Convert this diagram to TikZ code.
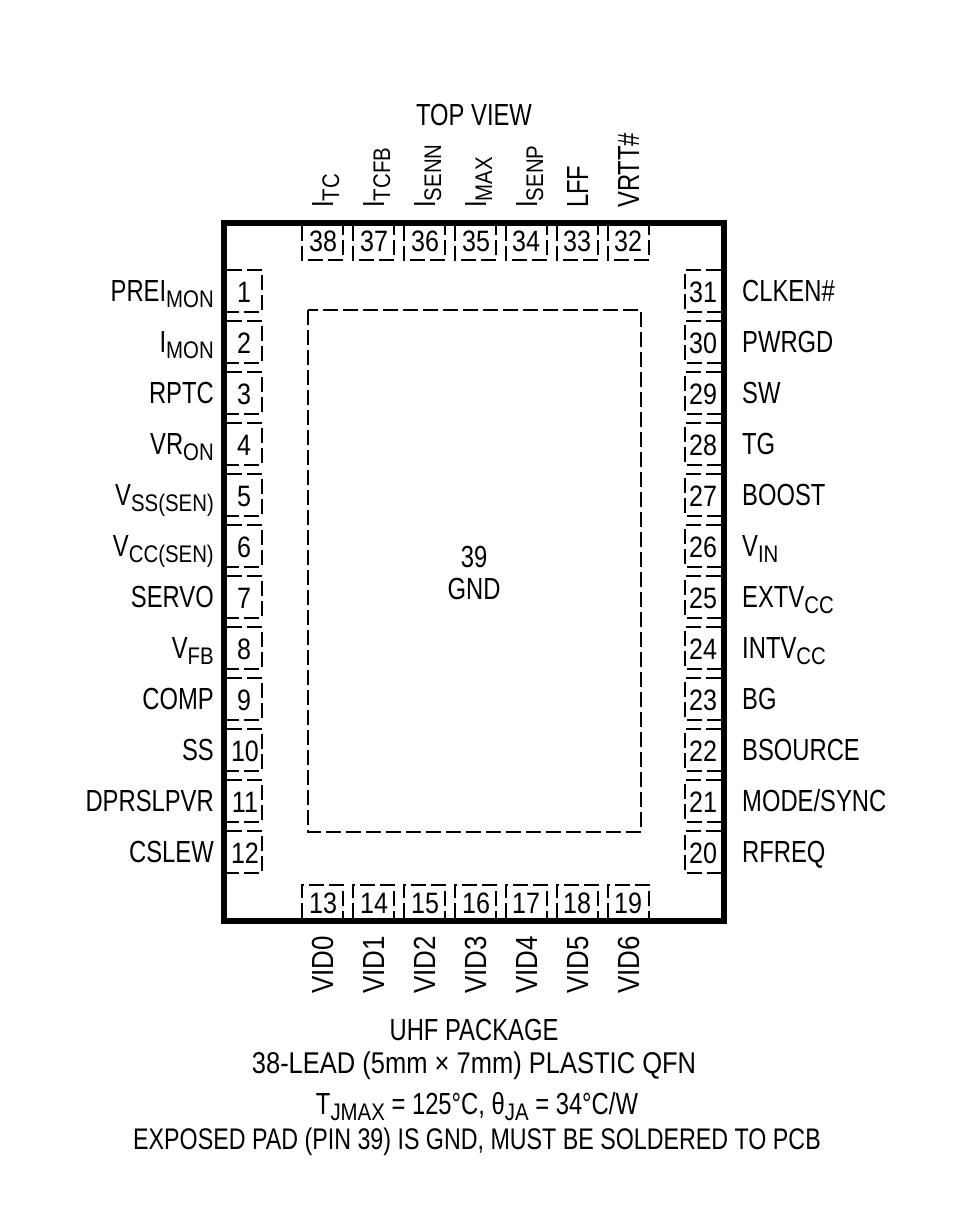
\documentclass[tikz,border=0pt]{standalone}
\usepackage{fontspec}
\setmainfont[FakeStretch=0.78]{Liberation Sans}
\newfontfamily\widefont[FakeStretch=0.85]{Liberation Sans}
\newcommand{\lowtext}[1]{\raisebox{-6pt}{\widefont\fontsize{24}{24}\selectfont #1}}
\tikzset{
    padline/.style={line width=2pt, dash pattern=on 15pt off 5pt},
    pinnum/.style={inner sep=0pt, anchor=base, font=\widefont\fontsize{29.5}{29.5}\selectfont},
    leftname/.style={inner sep=0pt, anchor=base east, font=\fontsize{30.5}{30.5}\selectfont},
    rightname/.style={inner sep=0pt, anchor=base west, font=\fontsize{30.5}{30.5}\selectfont},
    vertname/.style={inner sep=0pt, anchor=base west, rotate=90, font=\fontsize{30.5}{30.5}\selectfont},
    vidname/.style={vertname, font=\widefont\fontsize{30.5}{30.5}\selectfont},
    midtext/.style={inner sep=0pt, anchor=base, font=\fontsize{30.5}{30.5}\selectfont}
}
\begin{document}
\begin{tikzpicture}[x=1pt,y=-1pt]
    \useasboundingbox (0,0) rectangle (967,1220);
    \node [midtext] (topview) at (474,125) {TOP VIEW};

    \draw [line width=6pt] (224,223) rectangle (724,921);
    \draw [padline] (308,310) rectangle (641,832);
    \node [midtext] (epnum) at (474,567) {39};
    \node [midtext] (epname) at (474,599) {GND};

    % left side
    \draw [padline] (227,270) -- (262,270) -- (262,312) -- (227,312);
    \draw [padline] (227,321) -- (262,321) -- (262,363) -- (227,363);
    \draw [padline] (227,372) -- (262,372) -- (262,414) -- (227,414);
    \draw [padline] (227,423) -- (262,423) -- (262,465) -- (227,465);
    \draw [padline] (227,474) -- (262,474) -- (262,516) -- (227,516);
    \draw [padline] (227,525) -- (262,525) -- (262,567) -- (227,567);
    \draw [padline] (227,576) -- (262,576) -- (262,618) -- (227,618);
    \draw [padline] (227,627) -- (262,627) -- (262,669) -- (227,669);
    \draw [padline] (227,678) -- (262,678) -- (262,720) -- (227,720);
    \draw [padline] (227,729) -- (262,729) -- (262,771) -- (227,771);
    \draw [padline] (227,780) -- (262,780) -- (262,822) -- (227,822);
    \draw [padline] (227,831) -- (262,831) -- (262,873) -- (227,873);
    \node [pinnum] (pin1) at (244,302) {1};
    \node [pinnum] (pin2) at (244,353) {2};
    \node [pinnum] (pin3) at (244,404) {3};
    \node [pinnum] (pin4) at (244,455) {4};
    \node [pinnum] (pin5) at (244,506) {5};
    \node [pinnum] (pin6) at (244,557) {6};
    \node [pinnum] (pin7) at (244,608) {7};
    \node [pinnum] (pin8) at (244,659) {8};
    \node [pinnum] (pin9) at (244,710) {9};
    \node [pinnum] (pin10) at (245,761) {10};
    \node [pinnum] (pin11) at (245,812) {11};
    \node [pinnum] (pin12) at (245,863) {12};
    \node [leftname] (name1) at (214,301) {PREI\lowtext{MON}};
    \node [leftname] (name2) at (214,352) {I\lowtext{MON}};
    \node [leftname] (name3) at (214,403) {RPTC};
    \node [leftname] (name4) at (214,454) {VR\lowtext{ON}};
    \node [leftname] (name5) at (214,505) {V\lowtext{SS(SEN)}};
    \node [leftname] (name6) at (214,556) {V\lowtext{CC(SEN)}};
    \node [leftname] (name7) at (214,607) {SERVO};
    \node [leftname] (name8) at (214,658) {V\lowtext{FB}};
    \node [leftname] (name9) at (214,709) {COMP};
    \node [leftname] (name10) at (214,760) {SS};
    \node [leftname] (name11) at (214,811) {DPRSLPVR};
    \node [leftname] (name12) at (214,862) {CSLEW};

    % right side
    \draw [padline] (721,270) -- (685,270) -- (685,312) -- (721,312);
    \draw [padline] (721,321) -- (685,321) -- (685,363) -- (721,363);
    \draw [padline] (721,372) -- (685,372) -- (685,414) -- (721,414);
    \draw [padline] (721,423) -- (685,423) -- (685,465) -- (721,465);
    \draw [padline] (721,474) -- (685,474) -- (685,516) -- (721,516);
    \draw [padline] (721,525) -- (685,525) -- (685,567) -- (721,567);
    \draw [padline] (721,576) -- (685,576) -- (685,618) -- (721,618);
    \draw [padline] (721,627) -- (685,627) -- (685,669) -- (721,669);
    \draw [padline] (721,678) -- (685,678) -- (685,720) -- (721,720);
    \draw [padline] (721,729) -- (685,729) -- (685,771) -- (721,771);
    \draw [padline] (721,780) -- (685,780) -- (685,822) -- (721,822);
    \draw [padline] (721,831) -- (685,831) -- (685,873) -- (721,873);
    \node [pinnum] (pin31) at (703,302) {31};
    \node [pinnum] (pin30) at (703,353) {30};
    \node [pinnum] (pin29) at (703,404) {29};
    \node [pinnum] (pin28) at (703,455) {28};
    \node [pinnum] (pin27) at (703,506) {27};
    \node [pinnum] (pin26) at (703,557) {26};
    \node [pinnum] (pin25) at (703,608) {25};
    \node [pinnum] (pin24) at (703,659) {24};
    \node [pinnum] (pin23) at (703,710) {23};
    \node [pinnum] (pin22) at (703,761) {22};
    \node [pinnum] (pin21) at (703,812) {21};
    \node [pinnum] (pin20) at (703,863) {20};
    \node [rightname] (name31) at (742,301) {CLKEN\#};
    \node [rightname] (name30) at (742,352) {PWRGD};
    \node [rightname] (name29) at (742,403) {SW};
    \node [rightname] (name28) at (742,454) {TG};
    \node [rightname] (name27) at (742,505) {BOOST};
    \node [rightname] (name26) at (742,556) {V\lowtext{IN}};
    \node [rightname] (name25) at (742,607) {EXTV\lowtext{CC}};
    \node [rightname] (name24) at (742,658) {INTV\lowtext{CC}};
    \node [rightname] (name23) at (742,709) {BG};
    \node [rightname] (name22) at (742,760) {BSOURCE};
    \node [rightname] (name21) at (742,811) {MODE/SYNC};
    \node [rightname] (name20) at (742,862) {RFREQ};

    % top side
    \draw [padline] (302,226) -- (302,260) -- (343,260) -- (343,226);
    \draw [padline] (353,226) -- (353,260) -- (394,260) -- (394,226);
    \draw [padline] (404,226) -- (404,260) -- (445,260) -- (445,226);
    \draw [padline] (455,226) -- (455,260) -- (496,260) -- (496,226);
    \draw [padline] (506,226) -- (506,260) -- (547,260) -- (547,226);
    \draw [padline] (557,226) -- (557,260) -- (598,260) -- (598,226);
    \draw [padline] (608,226) -- (608,260) -- (649,260) -- (649,226);
    \node [pinnum] (pin38) at (323,251) {38};
    \node [pinnum] (pin37) at (374,251) {37};
    \node [pinnum] (pin36) at (425,251) {36};
    \node [pinnum] (pin35) at (476,251) {35};
    \node [pinnum] (pin34) at (526,251) {34};
    \node [pinnum] (pin33) at (577,251) {33};
    \node [pinnum] (pin32) at (628,251) {32};
    \node [vertname] (name38) at (333,208) {I\lowtext{TC}};
    \node [vertname] (name37) at (384,208) {I\lowtext{TCFB}};
    \node [vertname] (name36) at (435,208) {I\lowtext{SENN}};
    \node [vertname] (name35) at (486,208) {I\lowtext{MAX}};
    \node [vertname] (name34) at (537,208) {I\lowtext{SENP}};
    \node [vertname] (name33) at (588,208) {LFF};
    \node [vertname] (name32) at (639,208) {VRTT\#};

    % bottom side
    \draw [padline] (302,918) -- (302,885) -- (343,885) -- (343,918);
    \draw [padline] (353,918) -- (353,885) -- (394,885) -- (394,918);
    \draw [padline] (404,918) -- (404,885) -- (445,885) -- (445,918);
    \draw [padline] (455,918) -- (455,885) -- (496,885) -- (496,918);
    \draw [padline] (506,918) -- (506,885) -- (547,885) -- (547,918);
    \draw [padline] (557,918) -- (557,885) -- (598,885) -- (598,918);
    \draw [padline] (608,918) -- (608,885) -- (649,885) -- (649,918);
    \node [pinnum] (pin13) at (323,913) {13};
    \node [pinnum] (pin14) at (374,913) {14};
    \node [pinnum] (pin15) at (425,913) {15};
    \node [pinnum] (pin16) at (476,913) {16};
    \node [pinnum] (pin17) at (526,913) {17};
    \node [pinnum] (pin18) at (577,913) {18};
    \node [pinnum] (pin19) at (628,913) {19};
    \node [vidname] (name13) at (333,994) {VID0};
    \node [vidname] (name14) at (384,994) {VID1};
    \node [vidname] (name15) at (435,994) {VID2};
    \node [vidname] (name16) at (486,994) {VID3};
    \node [vidname] (name17) at (537,994) {VID4};
    \node [vidname] (name18) at (588,994) {VID5};
    \node [vidname] (name19) at (639,994) {VID6};

    \node [midtext] (pkg) at (474,1040) {UHF PACKAGE};
    \node [midtext, font=\widefont\fontsize{30}{30}\selectfont] (lead) at (474,1073) {38-LEAD (5mm × 7mm) PLASTIC QFN};
    \node [midtext] (tjmax) at (477,1114) {T\lowtext{JMAX} = 125°C, θ\lowtext{JA} = 34°C/W};
    \node [midtext, font=\fontsize{29.8}{29.8}\selectfont] (expad) at (477,1149) {EXPOSED PAD (PIN 39) IS GND, MUST BE SOLDERED TO PCB};
\end{tikzpicture}
\end{document}
